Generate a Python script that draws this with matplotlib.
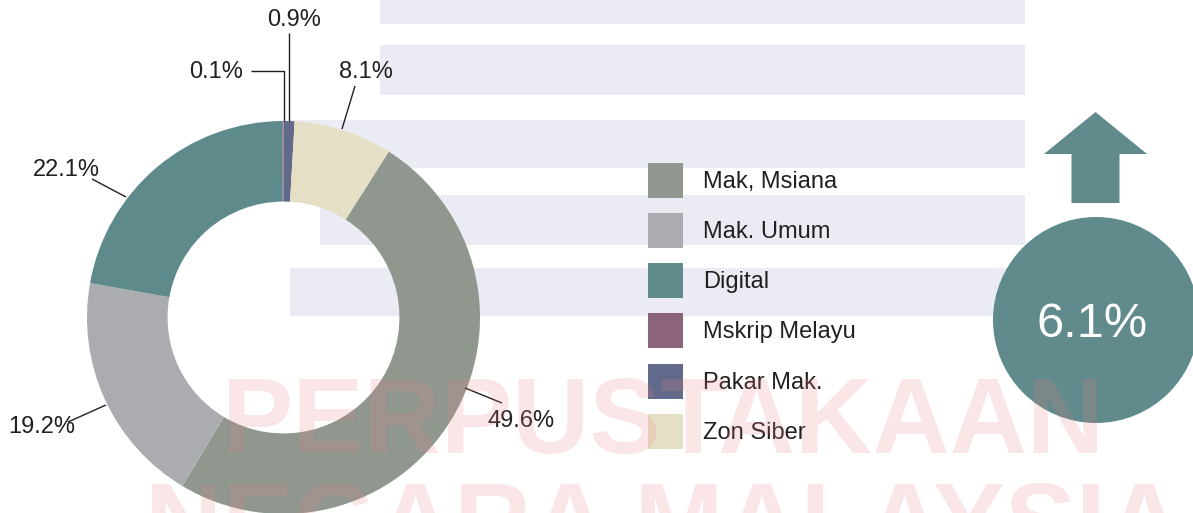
import matplotlib
matplotlib.use("Agg")
import matplotlib.pyplot as plt
from matplotlib.patches import Circle, FancyArrow, Rectangle

plt.rcParams['font.family'] = ['Liberation Sans', 'DejaVu Sans']

# ---- data ----
categories = ['Mak, Msiana', 'Mak. Umum', 'Digital', 'Mskrip Melayu', 'Pakar Mak.', 'Zon Siber']
shares = [49.6, 19.2, 22.1, 0.1, 0.9, 8.1]
colors = ['#8f978f', '#abacb0', '#5f8a8b', '#8b6479', '#616a8a', '#e5e0c5']
growth_label = '6.1%'

# ---- layout (pixel coordinates, y from top) ----
W, H = 1193, 513
def Y(py):
    return H - py

# label anchor: (left x, baseline y)
label_pos = {
    'Mak, Msiana': (487, 427),
    'Mak. Umum': (8, 433),
    'Digital': (33, 176),
    'Mskrip Melayu': (189, 78),
    'Pakar Mak.': (267, 26),
    'Zon Siber': (339, 78),
}
leaders = {
    'Mak, Msiana': [(465, 388), (502, 403)],
    'Mak. Umum': [(68, 422), (106, 405)],
    'Digital': [(92, 179), (126, 197)],
    'Mskrip Melayu': [(251, 71), (283.5, 71), (283.5, 121)],
    'Pakar Mak.': [(288.5, 33), (288.5, 121)],
    'Zon Siber': [(355, 86), (342, 129)],
}

fig = plt.figure(figsize=(W / 100, H / 100), dpi=100)
ax = fig.add_axes([0, 0, 1, 1])

# faint background watermark bands
bands = [(380, 0, 24), (380, 45, 95), (290, 120, 168), (320, 195, 245), (290, 268, 316)]
for x0, y0, y1 in bands:
    ax.add_patch(Rectangle((x0, Y(y1)), 1025 - x0, y1 - y0, facecolor='#ebebf3',
                           edgecolor='none', zorder=0))

# donut
cx, cy, R = 283.5, Y(317.5), 196.5
start = 90 - (shares[4] + shares[5]) * 3.6
wedges, _ = ax.pie(shares, colors=colors, startangle=start, counterclock=False,
                   center=(cx, cy), radius=R, frame=True,
                   wedgeprops=dict(width=R * 0.41, linewidth=0))

# labels and leader lines
for cat, val in zip(categories, shares):
    lx, ly = label_pos[cat]
    ax.text(lx, Y(ly), f'{val:.1f}%', ha='left', va='baseline', fontsize=17,
            color='#231f20', zorder=5)
    pts = leaders[cat]
    ax.plot([p[0] for p in pts], [Y(p[1]) for p in pts], color='#231f20', lw=1.0,
            solid_capstyle='butt', zorder=5)

# legend
leg = ax.legend(wedges, categories, loc='upper left', bbox_to_anchor=(648 / W, 1 - 163 / H),
                frameon=False, fontsize=17, handlelength=1.48, handleheight=1.905,
                handletextpad=0.85, labelspacing=0.64, borderpad=0, borderaxespad=0)
for t in leg.get_texts():
    t.set_color('#231f20')

# growth indicator
teal = '#608a8c'
ax.add_patch(Circle((1096, Y(320)), 103, facecolor=teal, edgecolor='none', zorder=3))
ax.add_patch(FancyArrow(1095.5, Y(203), 0, 203 - 112, width=48, head_width=103,
                        head_length=42, length_includes_head=True,
                        facecolor=teal, edgecolor='none', zorder=3))
ax.text(1092, Y(337), growth_label, ha='center', va='baseline', fontsize=35,
        color='white', zorder=6)

# watermark text
ax.text(222, Y(453), 'PERPUSTAKAAN', ha='left', va='baseline', fontsize=77,
        fontweight='bold', color='#e68282', alpha=0.2, zorder=7)
ax.text(145, Y(558), 'NEGARA MALAYSIA', ha='left', va='baseline', fontsize=77,
        fontweight='bold', color='#e68282', alpha=0.2, zorder=7)

ax.set_xlim(0, W)
ax.set_ylim(0, H)
ax.set_aspect('auto')
ax.axis('off')

fig.savefig('out.png', dpi=100)
